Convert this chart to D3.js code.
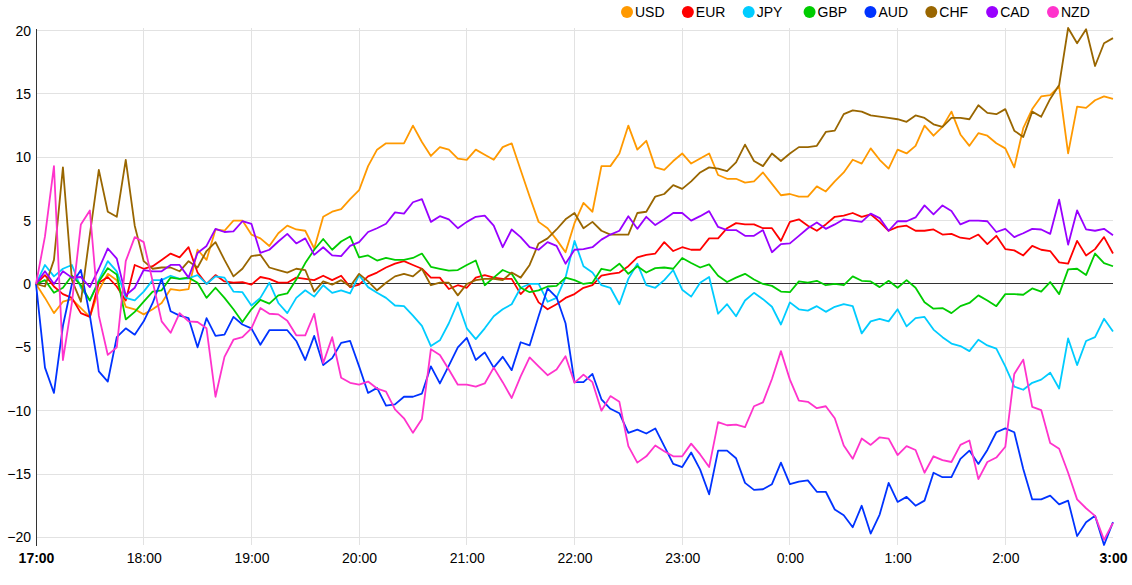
<!DOCTYPE html>
<html>
<head>
<meta charset="utf-8">
<script src="https://cdnjs.cloudflare.com/ajax/libs/d3/7.8.5/d3.min.js"></script>
<style>
    body { margin: 0; background: #fff; }
    svg { font-family: Arial, "Liberation Sans", sans-serif; }
</style>
</head>
<body>
<div id="chart"></div>
<script>
const WIDTH = 1132;
const HEIGHT = 585;

// currency strength, one point every 5 minutes from 17:00 to 3:00
const currencies = ["USD", "EUR", "JPY", "GBP", "AUD", "CHF", "CAD", "NZD"];
const colors = ["#ff9900", "#ff0000", "#00ccff", "#00cc00", "#0033ff", "#996600", "#9900ff", "#ff33cc"];
const stepMinutes = 5;
const hourLabels = ["17:00", "18:00", "19:00", "20:00", "21:00", "22:00", "23:00", "0:00", "1:00", "2:00", "3:00"];
const yTicks = [-20, -15, -10, -5, 0, 5, 10, 15, 20];

const usd = [0, -1.1, -2.3, -1.4, -1.2, -1.9, -2.6, -0.5, 0.8, 0.3, -1.8, -2.0, -2.4, -2.0, -1.5, -0.4, -0.5, -0.4, 2.7, 1.9, 4.3,
    4.2, 5.0, 5.0, 3.9, 3.6, 3.0, 4.0, 4.6, 4.3, 4.2, 2.8, 5.3, 5.7, 5.9, 6.7, 7.4, 9.3, 10.6, 11.1, 11.1,
    11.1, 12.5, 11.2, 10.1, 10.8, 10.6, 9.9, 9.8, 10.6, 10.2, 9.8, 10.8, 11.1, 9.0, 6.9, 4.9, 4.4, 3.5, 2.5, 4.8,
    6.4, 5.7, 9.3, 9.3, 10.3, 12.5, 10.6, 11.3, 9.2, 9.0, 9.7, 10.3, 9.5, 9.9, 10.3, 8.6, 8.3, 8.3, 8.0, 8.1,
    8.8, 7.9, 7.0, 7.1, 6.9, 6.9, 7.7, 7.3, 8.1, 8.8, 9.8, 9.5, 10.7, 9.8, 9.1, 10.6, 10.3, 10.9, 12.5, 11.7,
    12.4, 13.6, 11.8, 10.9, 11.9, 11.7, 11.1, 10.7, 9.2, 12.3, 13.8, 14.8, 14.9, 15.6, 10.3, 14.0, 13.9, 14.5, 14.8, 14.6];

const eur = [0, 0.7, -0.2, -0.8, -1.1, -2.3, -2.6, 0.1, 0.55, -0.2, -1.3, 1.5, 1.2, 1.4, 1.9, 2.4, 2.1, 2.9, 0.9, 0, 0.7,
    0.2, 0.1, 0.15, -0.05, 0.55, 0.4, 0.1, 0.1, 0.5, 0.4, 0.3, 0.65, 0.3, 0.65, -0.25, -0.05, 0.6, 0.9, 1.3, 1.6,
    1.8, 1.5, 1.2, 0.5, 0.5, -0.4, -0.1, -0.3, 0.5, 0.7, 0.5, 0.4, 0.4, -0.8, -0.1, -1.45, -2.0, -1.6, -1.1, -0.8,
    -0.3, -0.1, 0.65, 0.8, 0.9, 1.4, 2.1, 2.3, 2.4, 3.3, 2.6, 2.9, 2.7, 2.7, 3.6, 3.6, 4.4, 4.8, 4.7, 4.7,
    4.4, 4.4, 3.4, 4.9, 5.1, 4.6, 4.2, 4.7, 5.3, 5.4, 5.6, 5.3, 5.5, 4.9, 4.2, 4.5, 4.6, 4.2, 4.2, 4.3,
    3.9, 3.95, 3.65, 3.55, 3.9, 3.15, 3.8, 2.75, 2.65, 2.25, 3.0, 2.7, 2.6, 1.7, 1.6, 3.4, 2.25, 2.75, 3.7, 2.4];

const jpy = [0, 1.5, 0.6, 1.2, 1.5, -0.3, -1.3, 0.3, 1.8, 1.0, -1.1, -1.3, -0.6, 0.3, 0.3, 0.65, 0.4, 0.45, 0.7, 0, 0.6,
    0.5, -0.6, -0.65, -1.7, -1.1, 0.1, -1.5, -2.3, -1.1, -0.5, -1.0, -0.1, -0.7, -0.5, -0.75, 0.7, -0.25, -0.7, -1.1, -1.7,
    -1.75, -2.5, -3.3, -4.9, -4.45, -3.1, -1.45, -3.5, -4.35, -3.5, -2.55, -2.0, -1.6, -0.3, 0, 0, -1.4, -1.1, 0.5, 3.4,
    1.4, 0.9, -0.1, -0.3, -1.6, 0.4, 1.6, -0.1, -0.3, 0.3, 1.1, -0.45, -1.0, 0.1, 0.55, -2.35, -1.6, -2.55, -1.3, -0.7,
    -1.2, -1.8, -3.2, -1.45, -2.0, -2.1, -1.75, -2.2, -1.8, -1.6, -1.75, -3.9, -2.95, -2.75, -2.95, -2.0, -3.35, -2.7, -2.6, -3.6,
    -4.2, -4.7, -4.9, -5.3, -4.4, -4.85, -5.1, -6.5, -8.1, -8.35, -7.8, -7.55, -7.0, -8.25, -4.3, -6.4, -4.5, -4.2, -2.75, -3.75];

const gbp = [0, 0.3, -0.7, -0.3, 0.65, -0.1, -1.3, 0.2, 1.25, 0.75, -2.8, -2.2, -1.4, -0.6, -0.5, 0.5, 0.4, 0.5, 0.1, -1.1, -0.3,
    -1.1, -2.0, -3.0, -2.0, -1.25, -1.55, -0.9, -0.75, 0.35, 1.65, 2.7, 3.55, 2.7, 3.35, 3.75, 2.1, 2.25, 1.85, 2.05, 1.9,
    1.9, 2.05, 2.4, 1.35, 1.2, 1.05, 1.1, 1.5, 1.85, -0.1, 0.5, 1.1, 0.8, -0.3, -0.65, -0.5, -0.2, -0.15, 0.5, 0.3,
    0, 0.1, 1.2, 1.05, 1.6, 0.8, 1.4, 0.9, 1.25, 1.3, 1.2, 2.05, 1.65, 1.3, 1.55, 0.65, 0.15, 0.5, 0.8, 0.35,
    0, -0.15, -0.6, -0.65, 0.2, 0.1, 0.25, -0.1, 0, -0.1, 0.6, 0.25, 0.2, -0.25, 0.25, -0.3, 0.3, -0.3, -1.45, -1.95,
    -1.9, -2.3, -1.75, -1.5, -0.9, -1.3, -1.75, -0.8, -0.8, -0.85, -0.35, -0.6, 0.15, -0.8, 1.15, 1.2, 0.7, 2.4, 1.65, 1.4];

const aud = [0, -6.6, -8.6, -3.3, 0, 1.1, -2.5, -6.9, -7.7, -4.2, -3.5, -4.0, -2.95, -1.5, 0.4, -2.15, -2.5, -2.7, -5.0, -2.7, -4.1,
    -4.0, -2.6, -3.2, -3.5, -4.8, -3.65, -3.65, -3.65, -4.5, -6.0, -4.1, -6.4, -5.85, -4.65, -4.5, -6.5, -8.6, -8.2, -9.6, -9.5,
    -8.9, -8.9, -8.65, -6.5, -7.85, -6.45, -5.0, -4.25, -6.0, -5.4, -6.6, -5.75, -6.8, -4.6, -4.85, -2.55, -0.35, -1.05, -3.1, -7.75,
    -7.75, -7.1, -9.1, -9.85, -10.2, -11.75, -11.5, -11.8, -11.4, -12.8, -14.2, -14.45, -13.3, -14.65, -16.6, -13.15, -13.15, -13.75, -15.7, -16.25,
    -16.2, -15.8, -14.1, -15.8, -15.6, -15.5, -16.4, -16.4, -17.8, -18.25, -19.2, -17.5, -19.7, -18.2, -15.7, -17.2, -16.8, -17.5, -17.1, -14.9,
    -15.25, -15.25, -13.8, -13.15, -14.2, -13.1, -11.7, -11.4, -11.7, -14.6, -17.0, -17.0, -16.7, -17.4, -17.1, -19.9, -18.8, -18.3, -20.6, -18.8];

const chf = [0, -0.2, 1.9, 9.2, 0.3, -1.4, 3.9, 9.0, 5.7, 5.3, 9.8, 4.6, 1.8, 1.2, 1.3, 1.3, 1.0, 1.8, 1.3, 2.6, 3.3,
    1.9, 0.6, 1.2, 2.2, 2.3, 1.3, 1.1, 0.9, 1.2, 1.1, -0.6, 0.2, -0.05, 0.3, -0.2, 0.8, 0.2, -0.5, 0.1, 0.6,
    0.8, 0.6, 1.2, -0.1, 0.1, 0.1, -0.9, 0, 0.3, 0.4, 0.4, 0.3, 0.9, 0.5, 1.5, 3.2, 3.6, 4.3, 5.1, 5.6,
    4.4, 4.9, 4.2, 3.9, 3.9, 3.9, 5.6, 5.7, 6.9, 7.1, 7.8, 7.5, 8.1, 8.8, 9.2, 9.1, 8.9, 9.6, 11.0, 9.7,
    9.3, 10.3, 9.7, 10.3, 10.8, 10.8, 10.9, 12.0, 12.1, 13.4, 13.7, 13.6, 13.3, 13.2, 13.1, 13.0, 12.8, 13.3, 13.1, 12.6,
    12.4, 13.1, 13.1, 13.0, 14.1, 13.5, 13.4, 13.8, 12.1, 11.6, 13.6, 13.2, 14.6, 15.7, 20.2, 19.0, 20.1, 17.2, 19.0, 19.4];

const cad = [0, 1.0, 0, 1.0, 0.5, 0.55, -0.25, 1.2, 2.8, 2.0, -0.9, -0.3, 1.1, 1.0, 1.0, 1.5, 1.5, 0.5, 2.45, 3.0, 4.35,
    4.1, 4.15, 4.95, 4.75, 2.45, 2.7, 3.35, 3.95, 3.2, 3.6, 2.3, 2.9, 2.25, 2.2, 3.0, 3.3, 4.1, 4.4, 4.75, 5.65,
    5.55, 6.45, 6.7, 4.9, 5.35, 5.1, 4.4, 4.9, 5.3, 5.4, 4.6, 2.9, 4.3, 3.7, 2.9, 2.7, 3.3, 3.0, 1.6, 2.7,
    2.75, 2.9, 3.5, 3.9, 4.2, 5.35, 4.35, 5.3, 4.65, 5.1, 5.6, 5.6, 5.0, 5.35, 5.75, 4.5, 4.25, 4.25, 3.8, 3.8,
    4.25, 2.5, 3.15, 3.2, 3.8, 4.4, 4.85, 4.35, 4.7, 5.1, 5.0, 4.9, 5.55, 5.2, 4.2, 4.95, 4.95, 5.25, 6.2, 5.5,
    6.2, 5.75, 4.7, 5.0, 5.0, 4.95, 4.1, 4.35, 3.7, 4.0, 4.35, 4.3, 3.95, 6.65, 3.1, 5.8, 4.3, 4.2, 4.35, 3.85];

const nzd = [0, 3.75, 9.3, -6.0, -1.5, 4.7, 5.8, -2.5, -5.6, -5.0, 1.8, 3.7, 3.3, 0.2, -2.95, -3.85, -2.3, -2.95, -3.0, -3.5, -8.9,
    -5.75, -4.4, -4.2, -3.5, -1.9, -2.35, -2.4, -2.9, -4.05, -4.05, -2.35, -6.25, -4.2, -7.4, -7.8, -7.95, -7.7, -8.25, -8.5, -9.9,
    -10.6, -11.75, -10.65, -5.15, -5.6, -6.75, -7.95, -7.95, -8.1, -7.85, -6.6, -7.75, -9.0, -7.3, -5.8, -6.5, -7.2, -6.75, -5.7, -7.8,
    -7.15, -7.75, -10.0, -8.85, -9.3, -12.8, -14.1, -13.6, -12.75, -13.2, -13.6, -13.6, -12.6, -13.45, -14.45, -10.9, -11.15, -11.1, -11.3, -9.65,
    -9.35, -7.5, -5.3, -7.55, -9.2, -9.3, -9.8, -9.65, -10.6, -12.75, -13.8, -12.2, -12.7, -12.1, -12.2, -13.5, -12.8, -13.1, -14.9, -13.6,
    -13.9, -14.05, -12.7, -12.35, -15.4, -14.05, -13.7, -12.85, -7.1, -5.97, -9.7, -9.95, -12.55, -13.0, -14.9, -17.0, -17.7, -18.3, -20.2, -18.85];

const series = [usd, eur, jpy, gbp, aud, chf, cad, nzd];

const margin = {top: 28, right: 19, bottom: 40, left: 36};
const width = WIDTH - margin.left - margin.right;
const height = HEIGHT - margin.top - margin.bottom;

const t0 = new Date(2020, 0, 1, 17, 0);
const time = i => d3.timeMinute.offset(t0, i * stepMinutes);
const hours = hourLabels.map((d, i) => d3.timeHour.offset(t0, i));

const svg = d3.select("#chart").append("svg")
    .attr("width", WIDTH)
    .attr("height", HEIGHT);

const g = svg.append("g")
    .attr("transform", "translate(" + margin.left + "," + margin.top + ")");

const x = d3.scaleTime()
    .domain([t0, time(usd.length - 1)])
    .range([0, width]);

const y = d3.scaleLinear()
    .domain(d3.extent(series.flat()))
    .range([height, 0]);

// grid
g.append("g").selectAll("line")
    .data(yTicks.filter(d => d !== 0))
    .enter().append("line")
    .attr("x1", 0).attr("x2", width)
    .attr("y1", d => y(d)).attr("y2", d => y(d))
    .attr("stroke", "#e2e2e2")
    .attr("shape-rendering", "crispEdges");

g.append("g").selectAll("line")
    .data(hours.slice(1, -1))
    .enter().append("line")
    .attr("x1", d => x(d)).attr("x2", d => x(d))
    .attr("y1", 0).attr("y2", height)
    .attr("stroke", "#e2e2e2")
    .attr("shape-rendering", "crispEdges");

g.append("line")
    .attr("x1", 0).attr("x2", width)
    .attr("y1", y(0)).attr("y2", y(0))
    .attr("stroke", "#333")
    .attr("shape-rendering", "crispEdges");

// axes
const yAxis = g.append("g")
    .call(d3.axisLeft(y).tickValues(yTicks).tickSize(0).tickSizeOuter(0).tickPadding(5));
yAxis.select(".domain").attr("stroke", "#333").attr("shape-rendering", "crispEdges");
yAxis.selectAll("text").attr("font-size", 14).attr("fill", "#000");

const xAxis = g.append("g")
    .attr("transform", "translate(0," + height + ")")
    .call(d3.axisBottom(x).tickValues(hours).tickSize(0).tickPadding(8)
        .tickFormat((d, i) => hourLabels[i]));
xAxis.select(".domain").remove();
xAxis.selectAll("text")
    .attr("font-size", 14)
    .attr("fill", "#000")
    .attr("font-weight", (d, i) => (i === 0 || i === hourLabels.length - 1) ? "bold" : "normal");

// lines
const line = d3.line()
    .x((d, i) => x(time(i)))
    .y(d => y(d));

g.append("g").selectAll("path")
    .data(series)
    .enter().append("path")
    .attr("d", line)
    .attr("fill", "none")
    .attr("stroke", (d, i) => colors[i])
    .attr("stroke-width", 1.8)
    .attr("stroke-linejoin", "round");

// legend
const legendX = d3.scaleLinear().domain([0, currencies.length - 1]).range([627, 1053]);

const legend = svg.append("g").selectAll("g")
    .data(currencies)
    .enter().append("g")
    .attr("transform", (d, i) => "translate(" + legendX(i) + ",12)");

legend.append("circle")
    .attr("r", 6)
    .attr("fill", (d, i) => colors[i]);

legend.append("text")
    .attr("x", 8)
    .attr("dy", "0.35em")
    .attr("font-size", 14)
    .text(d => d);
</script>
</body>
</html>
